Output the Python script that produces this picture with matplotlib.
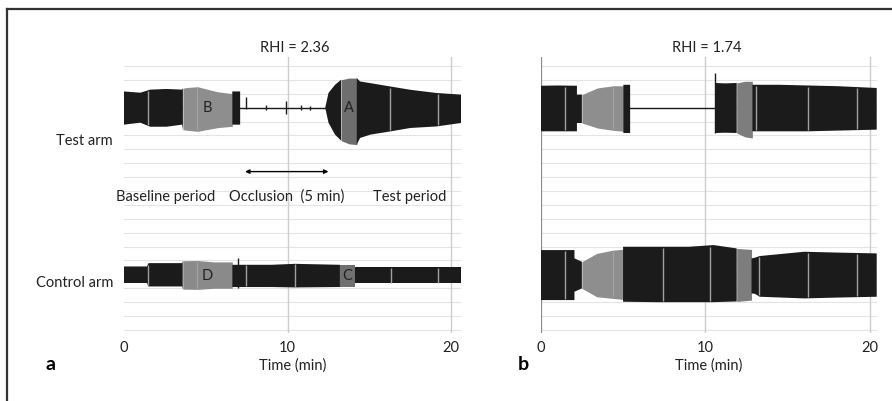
import numpy as np
import matplotlib
matplotlib.use("Agg")
import matplotlib.pyplot as plt
from matplotlib.lines import Line2D

plt.rcParams['font.family'] = ['Lato', 'DejaVu Sans']

# --- data (time in min, envelope half-widths in grid units) ---
# panel a, test arm
a_test_t = [0.0, 1.0, 1.6, 2.6, 3.55, 3.6, 3.8, 4.5, 5.7, 6.5, 6.62, 6.62, 7.1, 7.1,
            12.3, 12.5, 12.9, 13.27, 13.75, 14.23, 14.43, 15.05, 16.27, 17.5, 19.1, 20.6]
a_test_up = [1.17, 1.08, 1.3, 1.35, 1.3, 1.4, 1.45, 1.51, 1.15, 1.03, 1.03, 1.17, 1.17, 0.0,
             0.0, 1.06, 1.65, 2.01, 2.13, 2.13, 1.89, 1.77, 1.53, 1.29, 1.06, 0.94]
a_test_lo = [1.22, 1.08, 1.37, 1.37, 1.22, 1.58, 1.62, 1.7, 1.44, 1.35, 1.35, 1.22, 1.22, 0.0,
             0.0, 1.08, 1.94, 2.37, 2.6, 2.66, 2.18, 1.94, 1.71, 1.46, 1.35, 1.1]
a_test_gray = [(3.6, 6.62, '#8e8e8e', 'B'), (13.27, 14.23, '#6e6e6e', 'A')]
a_test_flat = (7.1, 12.3)
a_test_gaps = [1.45, 4.45, 16.27, 19.2]
a_test_spike_t = [7.46, 8.7, 9.9, 10.8, 11.4]
a_test_spike_up = [0.8, 0.2, 0.45, 0.2, 0.15]
a_test_spike_lo = [0.1, 0.2, 0.45, 0.2, 0.15]

# panel a, control arm
a_ctrl_t = [0.0, 1.4, 1.5, 3.55, 3.59, 4.5, 5.5, 6.62, 6.62, 9.0, 10.46, 13.2, 13.65,
            14.13, 14.13, 20.6]
a_ctrl_up = [0.67, 0.67, 0.91, 0.91, 1.08, 1.1, 1.0, 1.0, 0.79, 0.79, 0.86, 0.79, 0.79,
             0.79, 0.6, 0.6]
a_ctrl_lo = [0.52, 0.52, 0.77, 0.77, 0.96, 0.98, 0.9, 0.9, 0.81, 0.81, 0.84, 0.81, 0.81,
             0.81, 0.52, 0.52]
a_ctrl_gray = [(3.59, 6.62, '#8a8a8a', 'D'), (13.2, 14.13, '#707070', 'C')]
a_ctrl_gaps = [1.47, 4.45, 7.48, 10.46, 16.3, 19.18]
a_ctrl_spike_t = [6.98]
a_ctrl_spike_up = [1.3]
a_ctrl_spike_lo = [0.9]

# panel b, test arm
b_test_t = [0.0, 1.0, 2.2, 2.2, 2.5, 3.44, 4.4, 5.02, 5.02, 5.43, 5.43, 10.6, 10.6,
            11.2, 11.9, 12.4, 12.85, 12.85, 14.5, 16.2, 18.0, 20.4]
b_test_up = [1.58, 1.6, 1.58, 0.94, 0.94, 1.42, 1.58, 1.58, 1.65, 1.65, 0.0, 0.0, 1.78,
             1.75, 1.78, 1.9, 1.9, 1.65, 1.65, 1.6, 1.55, 1.42]
b_test_lo = [1.7, 1.7, 1.7, 1.1, 1.1, 1.46, 1.63, 1.7, 1.82, 1.82, 0.0, 0.0, 1.82,
             1.8, 1.82, 2.1, 2.18, 1.7, 1.7, 1.7, 1.65, 1.58]
b_test_gray = [(2.5, 5.02, '#8e8e8e', ''), (11.9, 12.85, '#7d7d7d', '')]
b_test_flat = (5.43, 10.6)
b_test_gaps = [1.5, 4.4, 13.1, 16.2, 19.2]
b_test_spike_t = [10.6]
b_test_spike_up = [2.5]
b_test_spike_lo = [1.8]

# panel b, control arm
b_ctrl_t = [0.0, 1.0, 2.05, 2.05, 2.5, 3.4, 4.4, 5.0, 5.0, 7.0, 9.0, 10.5, 11.9,
            12.35, 12.8, 12.8, 13.0, 13.3, 16.0, 18.0, 20.4]
b_ctrl_up = [1.8, 1.8, 1.8, 1.2, 0.96, 1.56, 1.8, 1.85, 2.04, 2.04, 2.04, 2.16, 1.92,
             1.88, 1.85, 1.2, 1.25, 1.37, 1.68, 1.62, 1.56]
b_ctrl_lo = [1.8, 1.8, 1.8, 1.2, 0.96, 1.56, 1.68, 1.75, 1.92, 1.95, 1.95, 1.95, 1.9,
             1.85, 1.8, 1.32, 1.35, 1.56, 1.68, 1.62, 1.56]
b_ctrl_gray = [(2.5, 5.0, '#8e8e8e', ''), (11.9, 12.8, '#7d7d7d', '')]
b_ctrl_gaps = [1.5, 4.4, 7.4, 10.3, 13.25, 16.2, 19.2]

TEST_Y = 16.0
CTRL_Y_A = 3.9
CTRL_Y_B = 3.95
BLACK = '#1b1b1b'


def draw_trace(ax, center, t, up, lo, grays, gaps, flat=None,
               spike_t=(), spike_up=(), spike_lo=()):
    t = np.array(t)
    top = center + np.array(up)
    bot = center - np.array(lo)
    in_gray = np.zeros(len(t), bool)
    for s, e, col, lab in grays:
        m = (t >= s) & (t <= e)
        in_gray |= (t > s) & (t < e)
        ax.fill_between(t, bot, top, where=m, color=col, lw=0, zorder=3)
        if lab:
            ax.text((s + e) / 2, center, lab, ha='center', va='center',
                    fontsize=10.5, color='#222222', zorder=5)
    ax.fill_between(t, bot, top, where=~in_gray, color=BLACK, lw=0, zorder=3)
    if flat:
        ax.plot(flat, [center, center], color=BLACK, lw=1.0, zorder=3)
    if len(spike_t):
        ax.vlines(spike_t, center - np.array(spike_lo), center + np.array(spike_up),
                  color=BLACK, lw=1.0, zorder=3)
    for g in gaps:
        hu = np.interp(g, t, up) * 0.95
        hl = np.interp(g, t, lo) * 0.95
        ax.vlines(g, center - hl, center + hu, color='#a0a0a0', lw=1.0, zorder=4)


def setup_axes(ax, xmax, zero_line):
    ax.set_xlim(0, xmax)
    ax.set_ylim(-0.22, 19.65)
    for y in range(20):
        ax.plot([0, xmax], [y, y], color='#e4e4e4', lw=0.8, zorder=1)
    for x in (10, 20):
        ax.axvline(x, color='#cdcdcd', lw=1.0, zorder=2)
    if zero_line:
        ax.axvline(0, color='#8a8a8a', lw=1.6, zorder=2)
    for s in ax.spines.values():
        s.set_visible(False)
    ax.set_yticks([])
    ax.set_xticks([0, 10, 20])
    ax.tick_params(axis='x', length=0, pad=6, labelsize=10.5, labelcolor='#222222')
    ax.set_xlabel('Time (min)', fontsize=10.5, labelpad=2, color='#222222')


fig = plt.figure(figsize=(8.92, 4.01), dpi=100)
W, H = 892, 401
ax_a = fig.add_axes([124 / W, 1 - 333 / H, 337 / W, 276 / H])
ax_b = fig.add_axes([540.7 / W, 1 - 333 / H, 336 / W, 276 / H])

setup_axes(ax_a, 20.6, False)
setup_axes(ax_b, 20.4, True)

draw_trace(ax_a, TEST_Y, a_test_t, a_test_up, a_test_lo, a_test_gray, a_test_gaps,
           a_test_flat, a_test_spike_t, a_test_spike_up, a_test_spike_lo)
draw_trace(ax_a, CTRL_Y_A, a_ctrl_t, a_ctrl_up, a_ctrl_lo, a_ctrl_gray, a_ctrl_gaps,
           None, a_ctrl_spike_t, a_ctrl_spike_up, a_ctrl_spike_lo)
draw_trace(ax_b, TEST_Y, b_test_t, b_test_up, b_test_lo, b_test_gray, b_test_gaps,
           b_test_flat, b_test_spike_t, b_test_spike_up, b_test_spike_lo)
draw_trace(ax_b, CTRL_Y_B, b_ctrl_t, b_ctrl_up, b_ctrl_lo, b_ctrl_gray, b_ctrl_gaps)

# occlusion arrow
ax_a.annotate('', xy=(12.5, 11.4), xytext=(7.4, 11.4),
              arrowprops=dict(arrowstyle='<|-|>', lw=1.0, color='black',
                              mutation_scale=6, shrinkA=0, shrinkB=0), zorder=5)

# texts
fs = 10.5
fig.text(295 / W, 1 - 48 / H, 'RHI = 2.36', ha='center', va='center', fontsize=fs, color='#222222')
fig.text(707 / W, 1 - 48 / H, 'RHI = 1.74', ha='center', va='center', fontsize=fs, color='#222222')
fig.text(113 / W, 1 - 141 / H, 'Test arm', ha='right', va='center', fontsize=fs, color='#222222')
fig.text(113 / W, 1 - 283 / H, 'Control arm', ha='right', va='center', fontsize=fs, color='#222222')
fig.text(166 / W, 1 - 197 / H, 'Baseline period', ha='center', va='center', fontsize=fs, color='#222222')
fig.text(287 / W, 1 - 197 / H, 'Occlusion  (5 min)', ha='center', va='center', fontsize=fs, color='#222222')
fig.text(410 / W, 1 - 197 / H, 'Test period', ha='center', va='center', fontsize=fs, color='#222222')
fig.text(50 / W, 1 - 364 / H, 'a', ha='center', va='center', fontsize=14, fontweight='bold')
fig.text(523 / W, 1 - 364 / H, 'b', ha='center', va='center', fontsize=14, fontweight='bold')

# outer frame (left and top edges)
fig.add_artist(Line2D([7 / W, 7 / W], [0, 1 - 9 / H], transform=fig.transFigure,
                      color='#333333', lw=1.6))
fig.add_artist(Line2D([7 / W, 1], [1 - 9 / H, 1 - 9 / H], transform=fig.transFigure,
                      color='#333333', lw=1.6))

fig.savefig('out.png', dpi=100)
